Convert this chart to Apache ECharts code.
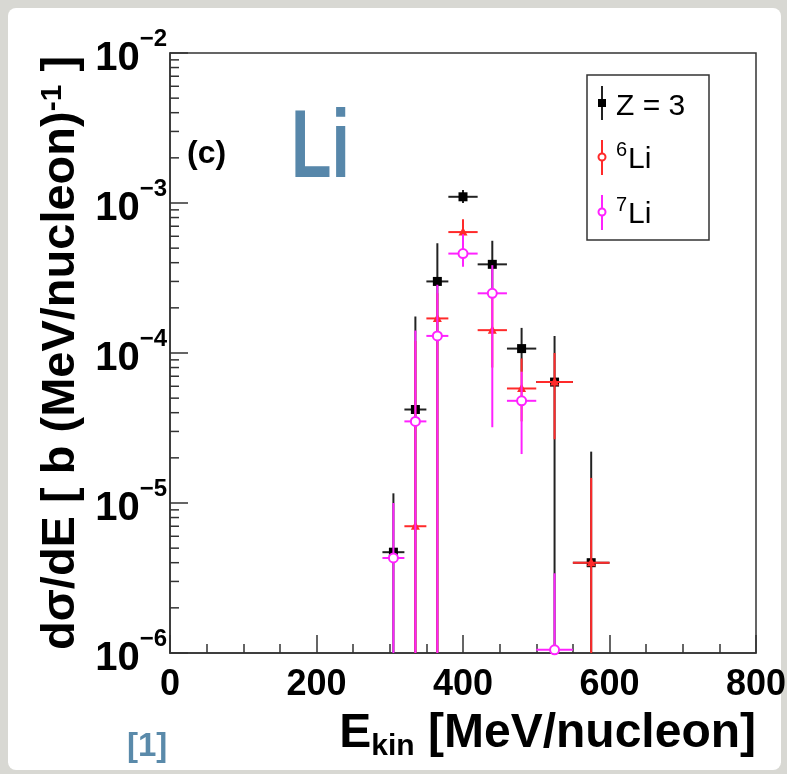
<!DOCTYPE html>
<html>
<head>
<meta charset="utf-8">
<script src="https://cdn.jsdelivr.net/npm/echarts@6/dist/echarts.min.js"></script>
<style>
  html, body { margin: 0; padding: 0; width: 787px; height: 774px; overflow: hidden; background: #d8d8d3; }
  #panel { position: absolute; left: 8px; top: 8px; width: 773px; height: 762px; background: #ffffff; border-radius: 8px; }
  #chart { position: absolute; left: 0; top: 0; width: 787px; height: 774px; }
</style>
</head>
<body>
<div id="panel"></div>
<div id="chart"></div>
<script>
// ---- data ----
const energy    = [305, 335, 365, 400, 440, 480, 525, 575];      // bin centres [MeV/nucleon]
const halfWidth = [15, 15, 15, 20, 20, 20, 25, 25];               // half bin widths

// Z = 3 (black)
const zValue = [4.7e-6, 4.2e-5, 3.0e-4, 1.10e-3, 3.9e-4, 1.07e-4, 6.4e-5, 4.0e-6];
const zLow   = [1e-7,   1e-7,   1e-7,   1.00e-3, 2.7e-4, 7.5e-5,  1e-7,   1e-7];
const zHigh  = [1.16e-5, 1.75e-4, 5.4e-4, 1.22e-3, 5.6e-4, 1.47e-4, 1.30e-4, 2.2e-5];

// 6Li (red)
const li6Value = [null, 7.0e-6, 1.7e-4, 6.4e-4, 1.42e-4, 5.8e-5, 6.4e-5, 4.0e-6];
const li6Low   = [null, 1e-7,   1e-7,   5.5e-4, 8.0e-5,  3.5e-5, 2.66e-5, 1e-7];
const li6High  = [null, 1.2e-4, 2.5e-4, 7.8e-4, 2.4e-4,  9.2e-5, 1.0e-4, 1.47e-5];

// 7Li (magenta)
const li7Value = [4.3e-6, 3.5e-5, 1.3e-4, 4.6e-4, 2.5e-4, 4.8e-5, 1.05e-6, null];
const li7Low   = [1e-7,   1e-7,   1e-7,   3.76e-4, 3.2e-5, 2.12e-5, 1e-7,  null];
const li7High  = [1.0e-5, 1.41e-4, 2.85e-4, 6.2e-4, 3.85e-4, 7.5e-5, 3.4e-6, null];

const xTickValues = [0, 200, 400, 600, 800];

// ---- helpers ----
function rows(vals, lows, highs) {
  const out = [];
  for (let i = 0; i < energy.length; i++) {
    if (vals[i] == null) continue;
    out.push([energy[i], vals[i], halfWidth[i], lows[i], highs[i]]);
  }
  return out;
}

function errRender(color, marker) {
  return function (params, api) {
    const cs = params.coordSys;
    const x = api.value(0), y = api.value(1), xe = api.value(2), lo = api.value(3), hi = api.value(4);
    const c = api.coord([x, y]);
    const xl = api.coord([x - xe, y])[0], xr = api.coord([x + xe, y])[0];
    const clampY = v => Math.max(cs.y, Math.min(cs.y + cs.height, v));
    const yt = clampY(api.coord([x, hi])[1]);
    const yb = clampY(api.coord([x, lo])[1]);
    const ls = { stroke: color, lineWidth: 2 };
    const children = [
      { type: 'line', shape: { x1: xl, y1: c[1], x2: xr, y2: c[1] }, style: ls },
      { type: 'line', shape: { x1: c[0], y1: yt, x2: c[0], y2: yb }, style: ls }
    ];
    if (marker === 'square') {
      children.push({ type: 'rect', shape: { x: c[0] - 4.5, y: c[1] - 4.5, width: 9, height: 9 }, style: { fill: '#000' } });
    } else if (marker === 'triangle') {
      children.push({ type: 'polygon', shape: { points: [[c[0], c[1] - 5], [c[0] - 4.5, c[1] + 3.5], [c[0] + 4.5, c[1] + 3.5]] }, style: { fill: color } });
    } else {
      children.push({ type: 'circle', shape: { cx: c[0], cy: c[1], r: 4.5 }, style: { fill: '#ffffff', stroke: color, lineWidth: 2 } });
    }
    return { type: 'group', children: children };
  };
}

// minor log ticks on the y axis (2..9 x 10^n)
const minorTickRows = [];
for (let n = -6; n < -2; n++) {
  for (let k = 2; k <= 9; k++) minorTickRows.push([0, k * Math.pow(10, n)]);
}

const FONT = 'Liberation Sans';
const chart = echarts.init(document.getElementById('chart'), null, { renderer: 'canvas' });

const option = {
  backgroundColor: 'transparent',
  animation: false,
  grid: {
    left: 170, right: 31, top: 53, bottom: 121,
    show: true, borderColor: '#333', borderWidth: 1.5, backgroundColor: '#ffffff',
    containLabel: false, outerBoundsMode: 'none'
  },
  xAxis: {
    type: 'value', min: 0, max: 800, interval: 200,
    axisLine: { show: true, lineStyle: { color: '#333', width: 1.5 } },
    axisTick: { show: true, inside: true, length: 18, lineStyle: { color: '#333', width: 1.5 } },
    minorTick: { show: true, splitNumber: 4, length: 9, lineStyle: { color: '#333', width: 1.5 } },
    splitLine: { show: false },
    axisLabel: {
      margin: 14, color: '#000', fontFamily: FONT, fontWeight: 'bold', fontSize: 36,
      formatter: v => xTickValues.indexOf(v) >= 0 ? String(v) : ''
    },
    name: 'E{sub|kin} [MeV/nucleon]',
    nameLocation: 'end', nameGap: 0,
    nameTextStyle: {
      align: 'right', verticalAlign: 'top', padding: [53, 0, 0, 0],
      color: '#000', fontFamily: FONT, fontWeight: 'bold', fontSize: 48,
      rich: {
        sub: { fontFamily: FONT, fontWeight: 'bold', fontSize: 30, color: '#000', padding: [26, 0, 0, 0], verticalAlign: 'top' }
      }
    }
  },
  yAxis: {
    type: 'log', logBase: 10, min: 1e-6, max: 1e-2,
    axisLine: { show: true, lineStyle: { color: '#333', width: 1.5 } },
    axisTick: { show: true, inside: true, length: 18, lineStyle: { color: '#333', width: 1.5 } },
    minorTick: { show: false },
    splitLine: { show: false },
    axisLabel: {
      margin: 3, color: '#000',
      formatter: v => {
        const e = Math.round(Math.log10(v));
        return '{b|10}{s|\u2212' + (-e) + '}';
      },
      rich: {
        b: { fontFamily: FONT, fontWeight: 'bold', fontSize: 40, color: '#000', verticalAlign: 'top', padding: [12, 0, 0, 0] },
        s: { fontFamily: FONT, fontWeight: 'bold', fontSize: 24, color: '#000', verticalAlign: 'top', padding: [0, 0, 0, 0] }
      }
    },
    name: 'd\u03c3/dE [ b (MeV/nucleon){sup|-1} ]',
    nameLocation: 'middle', nameRotate: 90, nameGap: 80,
    nameTextStyle: {
      color: '#000', fontFamily: FONT, fontWeight: 'bold', fontSize: 47,
      rich: {
        sup: { fontFamily: FONT, fontWeight: 'bold', fontSize: 30, color: '#000', verticalAlign: 'top', padding: [0, 0, 0, 0] }
      }
    }
  },
  series: [
    {
      type: 'custom', name: 'minorTicks', silent: true,
      data: minorTickRows,
      renderItem: function (params, api) {
        const p = api.coord([api.value(0), api.value(1)]);
        return { type: 'line', shape: { x1: p[0], y1: p[1], x2: p[0] + 9, y2: p[1] }, style: { stroke: '#333', lineWidth: 1.5 } };
      }
    },
    { type: 'custom', name: 'Z = 3', data: rows(zValue, zLow, zHigh), renderItem: errRender('#222222', 'square') },
    { type: 'custom', name: '6Li', data: rows(li6Value, li6Low, li6High), renderItem: errRender('#ff2a2a', 'triangle') },
    { type: 'custom', name: '7Li', data: rows(li7Value, li7Low, li7High), renderItem: errRender('#ff22ff', 'circle') }
  ],
  graphic: [
    { type: 'text', x: 187, y: 154, style: { text: '(c)', fill: '#000', font: 'bold 32px "Liberation Sans"', align: 'left', verticalAlign: 'middle' } },
    { type: 'text', x: 291, y: 151, scaleX: 0.69, style: { text: 'Li', fill: '#5787aa', font: 'bold 96px "Liberation Sans"', align: 'left', verticalAlign: 'middle' } },
    { type: 'text', x: 127, y: 747, style: { text: '[1]', fill: '#5a8aaa', font: 'bold 33px "Liberation Sans"', align: 'left', verticalAlign: 'middle' } },
    // legend box
    { type: 'rect', shape: { x: 587, y: 75, width: 122, height: 165 }, style: { fill: '#ffffff', stroke: '#333', lineWidth: 1.5 }, z: 10 },
    { type: 'line', shape: { x1: 602, y1: 86, x2: 602, y2: 120 }, style: { stroke: '#222', lineWidth: 2 }, z: 11 },
    { type: 'rect', shape: { x: 598, y: 99, width: 8, height: 8 }, style: { fill: '#000' }, z: 11 },
    { type: 'text', x: 616, y: 107, style: { text: 'Z = 3', fill: '#000', font: '30px "Liberation Sans"', align: 'left', verticalAlign: 'middle' }, z: 11 },
    { type: 'line', shape: { x1: 602, y1: 140, x2: 602, y2: 175 }, style: { stroke: '#ff2a2a', lineWidth: 2 }, z: 11 },
    { type: 'circle', shape: { cx: 602, cy: 157, r: 3.5 }, style: { fill: '#fff', stroke: '#ff2a2a', lineWidth: 2 }, z: 11 },
    { type: 'text', x: 616, y: 150, style: { text: '6', fill: '#000', font: '20px "Liberation Sans"', align: 'left', verticalAlign: 'middle' }, z: 11 },
    { type: 'text', x: 628, y: 160, style: { text: 'Li', fill: '#000', font: '30px "Liberation Sans"', align: 'left', verticalAlign: 'middle' }, z: 11 },
    { type: 'line', shape: { x1: 602, y1: 195, x2: 602, y2: 230 }, style: { stroke: '#ff22ff', lineWidth: 2 }, z: 11 },
    { type: 'circle', shape: { cx: 602, cy: 212, r: 3.5 }, style: { fill: '#fff', stroke: '#ff22ff', lineWidth: 2 }, z: 11 },
    { type: 'text', x: 616, y: 205, style: { text: '7', fill: '#000', font: '20px "Liberation Sans"', align: 'left', verticalAlign: 'middle' }, z: 11 },
    { type: 'text', x: 628, y: 215, style: { text: 'Li', fill: '#000', font: '30px "Liberation Sans"', align: 'left', verticalAlign: 'middle' }, z: 11 }
  ]
};
chart.setOption(option);
</script>
</body>
</html>
